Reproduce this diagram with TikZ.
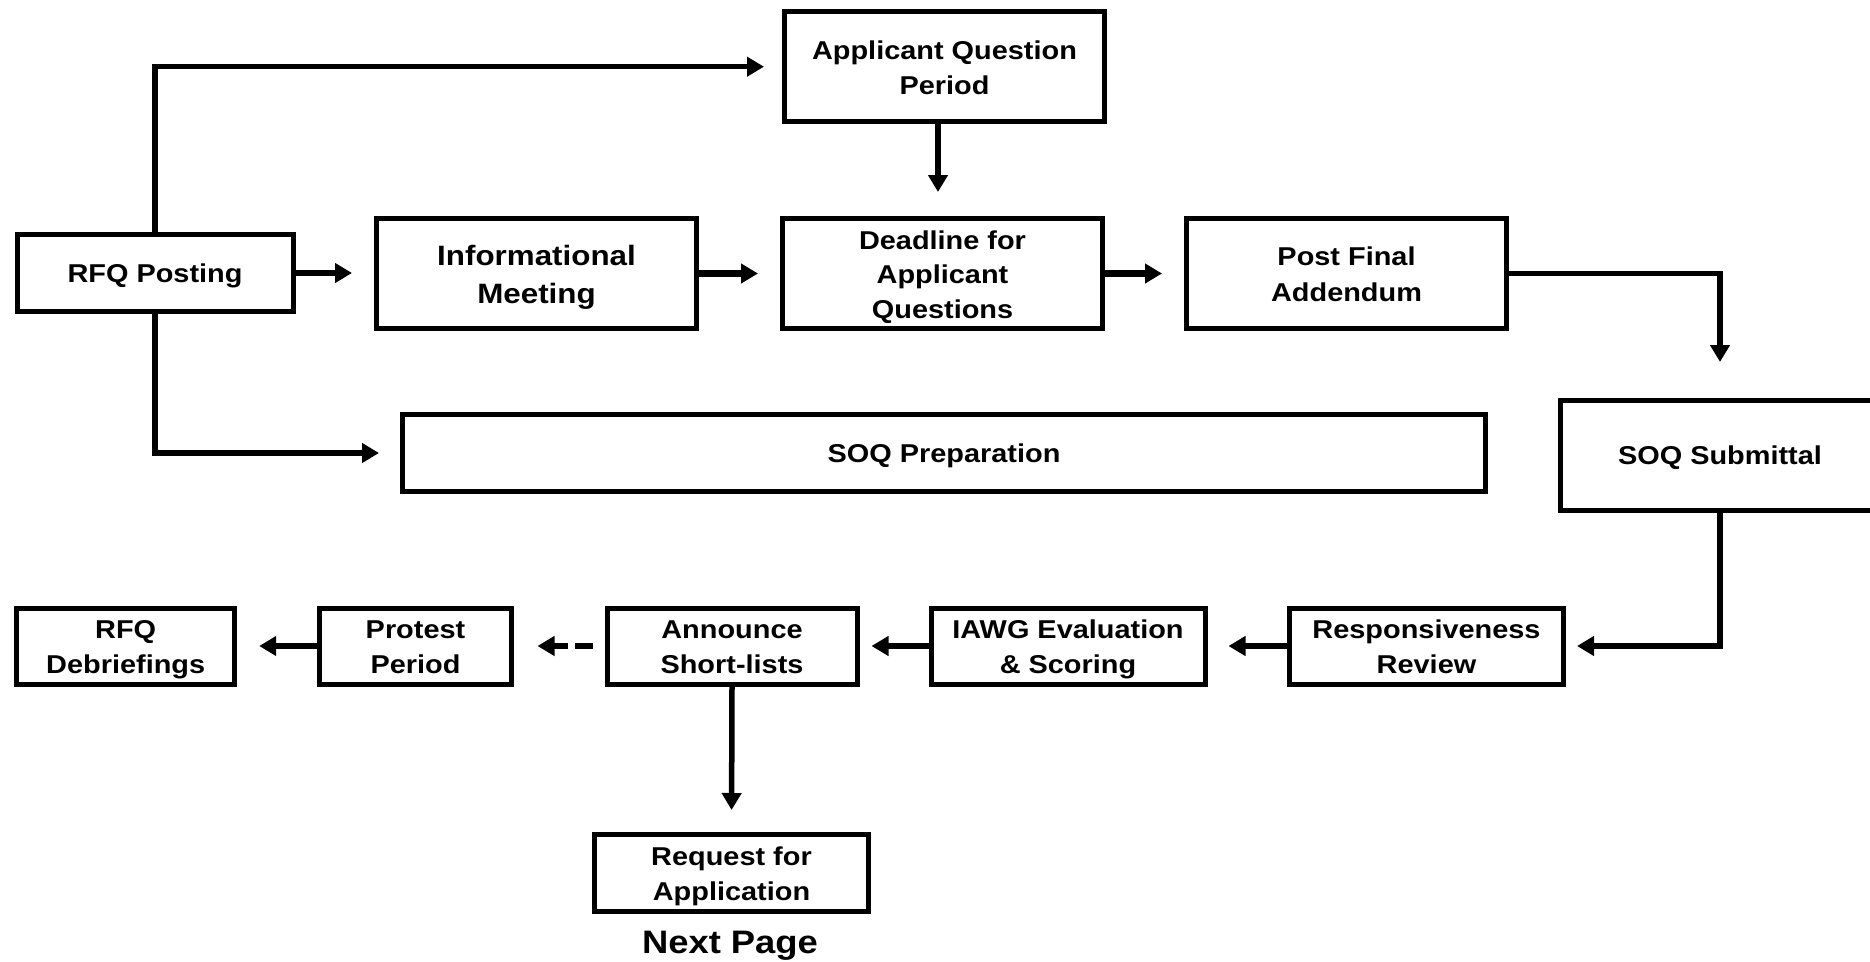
\documentclass[tikz,border=0pt]{standalone}
\usepackage{fontspec}
\setmainfont{Liberation Sans}[FakeStretch=1.12]
\usetikzlibrary{arrows.meta}
\tikzset{
  box/.style={draw, line width=5pt, inner sep=0pt, align=center,
    font=\bfseries\fontsize{25.8}{35.5}\selectfont,
    execute at begin node={\rule{0pt}{0.93em}},
    execute at end node={\rule[-0.22em]{0pt}{0pt}}},
  ml/.style={execute at begin node={\rule{0pt}{#1}}},
  ml/.default=61.3pt,
  conn/.style={line width=5.5pt, -{Triangle[length=17pt,width=19pt]}},
  thick conn/.style={conn, line width=6.5pt},
}
\begin{document}
\begin{tikzpicture}[x=1pt, y=-1pt]
\useasboundingbox (0,0) rectangle (1870,961);
\node[box, minimum width=276pt, minimum height=77pt] (rfq) at (155,273) {RFQ Posting};
\node[box, ml=66pt, minimum width=320pt, minimum height=110pt, font=\bfseries\fontsize{28}{38}\selectfont] (info) at (536.5,273.5) {Informational\\Meeting};
\node[box, ml, minimum width=320pt, minimum height=110pt] (aqp) at (944.5,66.7) {Applicant Question\\Period};
\node[box, ml=94.8pt, minimum width=320pt, minimum height=110pt, font=\bfseries\fontsize{25.8}{34.5}\selectfont] (dead) at (942.5,273.5) {Deadline for\\Applicant\\Questions};
\node[box, ml, minimum width=320pt, minimum height=110pt] (pfa) at (1346.5,273.5) {Post Final\\Addendum};
\node[box, minimum width=1083pt, minimum height=77pt] (prep) at (944,453) {SOQ Preparation};
\node[box, minimum width=320pt, minimum height=110pt] (sub) at (1720,455.5) {SOQ Submittal};
\node[box, ml, minimum width=274pt, minimum height=76pt] (resp) at (1426.5,646) {Responsiveness\\Review};
\node[box, ml, minimum width=274pt, minimum height=76pt] (iawg) at (1068,646) {IAWG Evaluation\\\& Scoring};
\node[box, ml, minimum width=250pt, minimum height=76pt] (ann) at (732,646) {Announce\\Short-lists};
\node[box, ml, minimum width=192pt, minimum height=76pt] (prot) at (415.5,646) {Protest\\Period};
\node[box, ml, minimum width=218pt, minimum height=76pt] (deb) at (125.7,646) {RFQ\\Debriefings};
\node[box, ml, minimum width=274pt, minimum height=77pt] (rfa) at (731.5,873) {Request for\\Application};
\node[anchor=base, inner sep=0pt, font=\bfseries\fontsize{32.5}{36}\selectfont] (next) at (730,953) {Next Page};

\draw[conn, shorten >=18pt] (rfq.north) |- (aqp.west);
\draw[thick conn, shorten >=22pt] (rfq.east) -- (rfq.east -| info.west);
\draw[conn, shorten >=21pt] (rfq.south) |- (prep.west);
\draw[thick conn, shorten >=22pt] (info.east) -- (dead.west);
\draw[conn, shorten >=24pt] ([xshift=-6.5pt]aqp.south) -- ([xshift=-6.5pt]aqp.south |- dead.north);
\draw[thick conn, shorten >=22pt] (dead.east) -- (pfa.west);
\draw[conn, shorten >=36pt] (pfa.east) -| (sub.north);
\draw[conn, shorten >=11pt] (sub.south) |- (resp.east);
\draw[thick conn, shorten >=21pt] (resp.west) -- (iawg.east);
\draw[thick conn, shorten >=12pt] (iawg.west) -- (ann.east);
\draw[thick conn, dash pattern=on 18pt off 7pt on 40pt off 7pt, shorten <=12pt, shorten >=23.5pt] (ann.west) -- (prot.east);
\draw[thick conn, shorten >=22pt] (prot.west) -- (deb.east);
\draw[conn, shorten >=22pt] (ann.south) -- (rfa.north);
\end{tikzpicture}
\end{document}
